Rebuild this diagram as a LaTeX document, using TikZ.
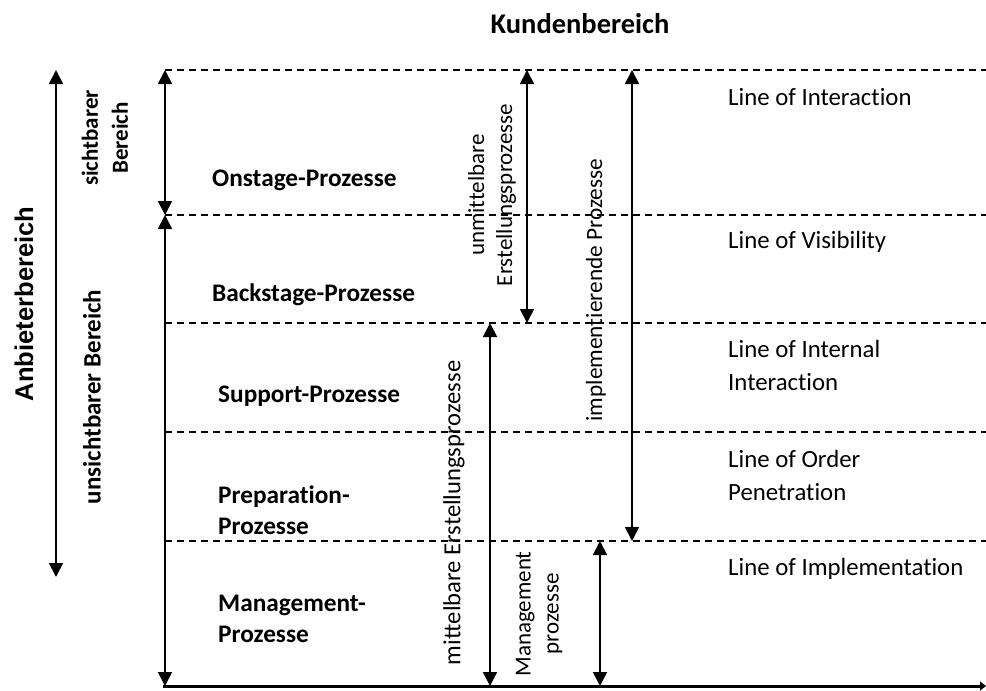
\documentclass[tikz,border=0pt]{standalone}
\usepackage{fontspec}
\setmainfont{Carlito}[Ligatures=NoCommon]
\newfontfamily\arialfont{Liberation Sans}
\usetikzlibrary{arrows.meta}
\begin{document}
\begin{tikzpicture}[x=1pt,y=-1pt,
  dline/.style={dashed,dash pattern=on 7pt off 5pt,line width=1.3pt},
  darrow/.style={line width=1.8pt,{Triangle[width=14pt,length=14pt]}-{Triangle[width=14pt,length=14pt]}},
  proc/.style={anchor=west,font=\fontsize{25.3}{31}\selectfont\bfseries,align=left,inner sep=0pt},
  linelab/.style={anchor=west,font=\fontsize{24.8}{33}\selectfont,align=left,inner sep=0pt},
  vlab/.style={rotate=90,font=\fontsize{23}{28}\selectfont,align=center,inner sep=0pt},
  vblab/.style={rotate=90,font=\fontsize{23}{30}\selectfont\bfseries,align=center,inner sep=0pt}]
\useasboundingbox (0,0) rectangle (986,691);
% horizontal lines
\foreach \n/\y in {a/70,b/215,c/323,d/432,e/541}{
  \coordinate (L\n) at (165,\y);
  \coordinate (R\n) at (986,\y);
  \draw[dline] (L\n) -- (R\n);
}
\coordinate (Lf) at (163,686);
\coordinate (Rf) at (986,686);
\draw[line width=3pt,-{Triangle[width=9pt,length=6pt]}] (Lf) -- (Rf);
% title
\node (title) at (580,24) {\fontsize{28.5}{32}\selectfont\bfseries Kundenbereich};
% left main arrow
\coordinate (A1) at (56,70);
\coordinate (A2) at (56,577);
\draw[darrow] (A1) -- (A2);
\node[rotate=90,inner sep=0pt] (anb) at (24,304) {\arialfont\fontsize{25.6}{30}\selectfont\bfseries Anbieterbereich};
\node[vblab] (sicht) at (105,138) {sichtbarer\\Bereich};
\node[vblab,font=\fontsize{25}{30}\selectfont\bfseries] (unsicht) at (92,397) {unsichtbarer Bereich};
% arrows at x=165
\coordinate (S1) at (165,70);
\coordinate (S2) at (165,215);
\coordinate (S3) at (165,686);
\draw[darrow] (S1) -- (S2);
\draw[darrow] (S2) -- (S3);
% process labels
\node[proc] (on) at (212,180) {Onstage-Prozesse};
\node[proc] (back) at (212,295) {Backstage-Prozesse};
\node[proc] (sup) at (218,396) {Support-Prozesse};
\node[proc] (prep) at (218,510) {Preparation-\\Prozesse};
\node[proc] (man) at (218,619) {Management-\\Prozesse};
% inner arrows
\coordinate (U1) at (527,70);
\coordinate (U2) at (527,323);
\draw[darrow] (U1) -- (U2);
\node[vlab] (unm) at (492,195) {unmittelbare\\Erstellungsprozesse};
\coordinate (I1) at (632,70);
\coordinate (I2) at (632,541);
\draw[darrow] (I1) -- (I2);
\node[vlab,font=\fontsize{23.3}{28}\selectfont] (impl) at (596,290) {implementierende Prozesse};
\coordinate (M1) at (490,323);
\coordinate (M2) at (490,686);
\draw[darrow] (M1) -- (M2);
\node[vlab,font=\fontsize{24.6}{28}\selectfont] (mitt) at (454,513) {mittelbare Erstellungsprozesse};
\coordinate (P1) at (600,541);
\coordinate (P2) at (600,686);
\draw[darrow] (P1) -- (P2);
\node[vlab] (mgmt) at (539,614) {Management\\prozesse};
% right labels
\node[linelab] (l1) at (728,97) {Line of Interaction};
\node[linelab] (l2) at (728,242) {Line of Visibility};
\node[linelab] (l3) at (728,365) {Line of Internal\\Interaction};
\node[linelab] (l4) at (728,475) {Line of Order\\Penetration};
\node[linelab] (l5) at (728,569) {Line of Implementation};
\end{tikzpicture}
\end{document}
